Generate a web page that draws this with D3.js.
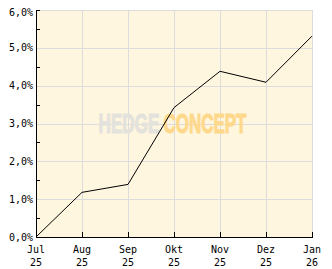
<!DOCTYPE html>
<html>
<head>
<meta charset="utf-8">
<script src="https://cdn.jsdelivr.net/npm/d3@7"></script>
<style>
  body { margin: 0; background: #fff; }
  svg { display: block; }
  .lbl { font-family: "DejaVu Sans Mono", monospace; font-size: 10px; fill: #000; }
  .wm { font-family: "Liberation Sans Narrow", "Liberation Sans", sans-serif; font-weight: bold; font-size: 27px; stroke-width: 1.1; }
</style>
</head>
<body>
<div id="chart"></div>
<script>
// Data
var months      = ['Jul', 'Aug', 'Sep', 'Okt', 'Nov', 'Dez', 'Jan'];
var years       = ['25', '25', '25', '25', '25', '25', '26'];
var values      = [0.0, 1.18, 1.39, 3.42, 4.38, 4.09, 5.31];
var yTicks      = [0, 1, 2, 3, 4, 5, 6];
var yMinorTicks = [0.5, 1.5, 2.5, 3.5, 4.5, 5.5, 6];

var chart_width  = 332;
var chart_height = 269;
var margin = {top: 10, right: 20, bottom: 32, left: 36};

var x = d3.scalePoint()
    .domain(d3.range(months.length))
    .range([margin.left, chart_width - margin.right]);

var y = d3.scaleLinear()
    .domain([0, 6])
    .range([chart_height - margin.bottom, margin.top]);

var svg = d3.select('#chart')
    .append('svg')
    .attr('width', chart_width)
    .attr('height', chart_height);

// plot background
svg.append('rect')
    .attr('x', margin.left)
    .attr('y', margin.top)
    .attr('width', x(months.length - 1) - margin.left)
    .attr('height', y(0) - margin.top)
    .attr('fill', '#fef6de');

// grid
svg.append('g')
    .selectAll('line')
    .data(yTicks)
    .enter()
    .append('line')
    .attr('x1', margin.left)
    .attr('x2', x(months.length - 1))
    .attr('y1', (d) => Math.round(y(d)) + 0.5)
    .attr('y2', (d) => Math.round(y(d)) + 0.5)
    .attr('stroke', '#dcdcdc')
    .attr('stroke-width', 1);

svg.append('g')
    .selectAll('line')
    .data(d3.range(months.length))
    .enter()
    .append('line')
    .attr('x1', (d) => Math.round(x(d)) + 0.5)
    .attr('x2', (d) => Math.round(x(d)) + 0.5)
    .attr('y1', margin.top)
    .attr('y2', y(0))
    .attr('stroke', '#dcdcdc')
    .attr('stroke-width', 1);

// watermark, squeezed to fit its width
function watermark(txt, x0, w, col){
    var t = svg.append('text')
        .attr('class', 'wm')
        .attr('x', 0)
        .attr('y', 0)
        .attr('fill', col)
        .attr('stroke', col)
        .text(txt);
    var nat = t.node().getComputedTextLength();
    t.attr('transform', 'translate(' + x0 + ',133) scale(' + (w / nat) + ',1)');
}
watermark('HEDGE', 98.5, 61, '#e4e2dc');
watermark('CONCEPT', 163.5, 83, '#fed98c');

// line
var line = d3.line()
    .x((d, i) => x(i))
    .y((d) => y(d));

svg.append('path')
    .datum(values)
    .attr('d', line)
    .attr('fill', 'none')
    .attr('stroke', '#000')
    .attr('stroke-width', 1);

// axes
svg.append('line')
    .attr('x1', margin.left + 0.5).attr('x2', margin.left + 0.5)
    .attr('y1', margin.top).attr('y2', y(0) + 1)
    .attr('stroke', '#000');
svg.append('line')
    .attr('x1', margin.left).attr('x2', x(months.length - 1) + 1)
    .attr('y1', Math.round(y(0)) + 0.5).attr('y2', Math.round(y(0)) + 0.5)
    .attr('stroke', '#000');

svg.append('g')
    .selectAll('line')
    .data(yMinorTicks)
    .enter()
    .append('line')
    .attr('x1', margin.left)
    .attr('x2', margin.left + 4)
    .attr('y1', (d) => Math.round(y(d)) + 0.5)
    .attr('y2', (d) => Math.round(y(d)) + 0.5)
    .attr('stroke', '#000');

svg.append('g')
    .selectAll('line')
    .data(d3.range(1, months.length))
    .enter()
    .append('line')
    .attr('x1', (d) => Math.round(x(d)) + 0.5)
    .attr('x2', (d) => Math.round(x(d)) + 0.5)
    .attr('y1', y(0) - 5)
    .attr('y2', y(0))
    .attr('stroke', '#000');

// labels
svg.append('g')
    .selectAll('text')
    .data(yTicks)
    .enter()
    .append('text')
    .attr('class', 'lbl')
    .attr('x', margin.left - 3)
    .attr('y', (d) => y(d) + (d === 6 ? 2 : 0))
    .attr('dy', '0.35em')
    .attr('text-anchor', 'end')
    .text((d) => d3.format('.1f')(d).replace('.', ',') + '%');

var xl = svg.append('g')
    .selectAll('text')
    .data(d3.range(months.length))
    .enter()
    .append('text')
    .attr('class', 'lbl')
    .attr('text-anchor', 'middle');
xl.append('tspan')
    .attr('x', (d) => x(d))
    .attr('y', 253)
    .text((d) => months[d]);
xl.append('tspan')
    .attr('x', (d) => x(d))
    .attr('y', 266)
    .text((d) => years[d]);
</script>
</body>
</html>
